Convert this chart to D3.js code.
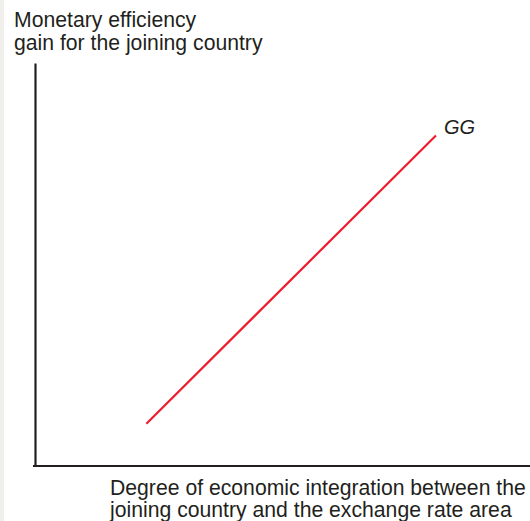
<!DOCTYPE html>
<html>
<head>
<meta charset="utf-8">
<script src="https://cdn.jsdelivr.net/npm/d3@7"></script>
<style>
  body { margin: 0; background: #fff; }
  svg text { font-family: "Liberation Sans", Arial, sans-serif; fill: #231f20; }
</style>
</head>
<body>
<div id="chart"></div>
<script>
// GG curve, in arbitrary units (0..10 on both axes)
const ggX = [2.25, 8.1];
const ggY = [1.05, 8.2];
const ggLabel = "GG";
const yTitle = ["Monetary efficiency", "gain for the joining country"];
const xTitle = ["Degree of economic integration between the", "joining country and the exchange rate area"];

const width = 530, height = 521;
const margin = { top: 63, right: 0, bottom: 55, left: 35 };

const svg = d3.select("#chart")
    .append("svg")
    .attr("width", width)
    .attr("height", height);

// faint strip at the left edge
svg.append("rect")
    .attr("x", 0).attr("y", 0)
    .attr("width", 4).attr("height", height)
    .attr("fill", "#f1efeb");

var x = d3.scaleLinear()
    .domain([0, 10])
    .range([margin.left, width - margin.right]);

var y = d3.scaleLinear()
    .domain([0, 10])
    .range([height - margin.bottom, margin.top]);

// axes, no ticks
svg.append("g")
    .attr("transform", "translate(0," + y(0) + ")")
    .call(d3.axisBottom(x).tickValues([]).tickSizeOuter(0))
    .call(g => g.select(".domain").attr("stroke", "#231f20").attr("stroke-width", 2.2)
        .attr("d", "M" + (x(0) - 2) + ",0H" + x(10)));

svg.append("g")
    .attr("transform", "translate(" + x(0) + ",0)")
    .call(d3.axisLeft(y).tickValues([]).tickSizeOuter(0))
    .call(g => g.select(".domain").attr("stroke", "#231f20").attr("stroke-width", 2.2));

// GG line
var pts = ggX.map((d, i) => [d, ggY[i]]);
svg.append("path")
    .datum(pts)
    .attr("fill", "none")
    .attr("stroke", "#ed1c2e")
    .attr("stroke-width", 2.2)
    .attr("d", d3.line().x(d => x(d[0])).y(d => y(d[1])));

svg.append("text")
    .attr("x", x(ggX[1]) + 8)
    .attr("y", y(ggY[1]) - 2)
    .style("font-size", "20px")
    .style("font-style", "italic")
    .text(ggLabel);

// axis titles
yTitle.forEach((t, i) => {
    svg.append("text")
        .attr("x", 14)
        .attr("y", 27 + i * 23)
        .style("font-size", "21.2px")
        .text(t);
});

xTitle.forEach((t, i) => {
    svg.append("text")
        .attr("x", 110)
        .attr("y", 495 + i * 22)
        .style("font-size", "21.2px")
        .text(t);
});
</script>
</body>
</html>
